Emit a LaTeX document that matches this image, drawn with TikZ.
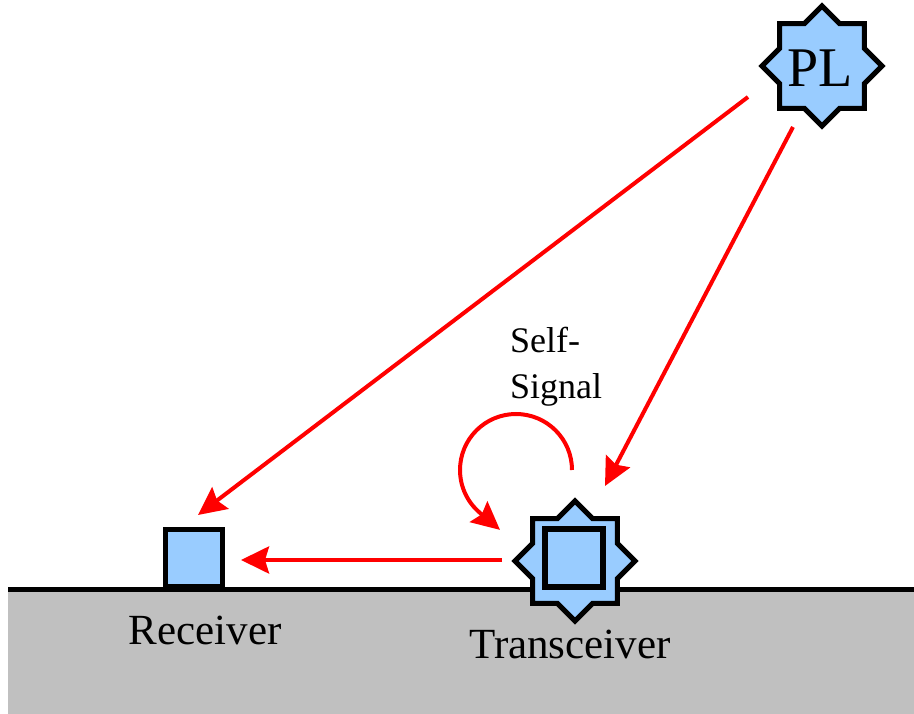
\documentclass[tikz,border=0pt]{standalone}
\usepackage{fontspec}
\setmainfont{Liberation Serif}
\usetikzlibrary{arrows.meta,shapes.geometric}
\definecolor{device}{HTML}{99CCFF}
\definecolor{earth}{HTML}{C0C0C0}
\tikzset{
  devstar/.style={star, star points=8, star point ratio=1.307, minimum size=120pt,
    inner sep=0pt, draw=black, line width=5pt, fill=device},
  devbox/.style={rectangle, minimum size=57pt, inner sep=0pt, draw=black,
    line width=5.5pt, fill=device},
  signal/.style={draw=red, line width=4pt,
    -{Stealth[length=28pt, width=27pt, inset=4pt]}},
  caption/.style={font=\fontsize{43}{46}\selectfont, inner sep=0pt}
}
\begin{document}
\begin{tikzpicture}[x=1pt, y=-1pt]
  \useasboundingbox (0,0) rectangle (914,714);
  \fill[white] (0,0) rectangle (914,714);

  % ground
  \fill[earth] (8,589) rectangle (914,714);
  \draw[line width=5pt] (8,589) -- (914,589);

  % power line source
  \node[devstar] (pl) at (822,66) {};
  \node[font=\fontsize{56}{56}\selectfont, inner sep=0pt] (pltext) at (820,68) {PL};

  % transceiver
  \node[devstar] (trx) at (575,561) {};
  \node[devbox, minimum size=58pt] (trxbox) at (574,558) {};
  \node[caption] (trxlabel) at (570,644) {Transceiver};

  % receiver
  \node[devbox] (rx) at (194,558) {};
  \node[caption] (rxlabel) at (205,630) {Receiver};

  % arrow end points
  \coordinate (plout1) at (748,97);
  \coordinate (rxin1) at (198,515);
  \coordinate (plout2) at (793,127);
  \coordinate (trxin) at (605,486);
  \coordinate (trxout) at (502,560);
  \coordinate (rxin2) at (241,560);
  \coordinate (selfstart) at (572,470);

  \draw[signal] (plout1) -- (rxin1);
  \draw[signal] (plout2) -- (trxin);
  \draw[signal] (trxout) -- (rxin2);
  \draw[signal] (selfstart) arc[start angle=0, end angle=-230, radius=56] -- ++(20,17);

  % self-signal label
  \node[font=\fontsize{36}{46}\selectfont, align=left, anchor=north west, inner sep=0pt]
    (selflabel) at (510,327) {Self-\\Signal};
\end{tikzpicture}
\end{document}
